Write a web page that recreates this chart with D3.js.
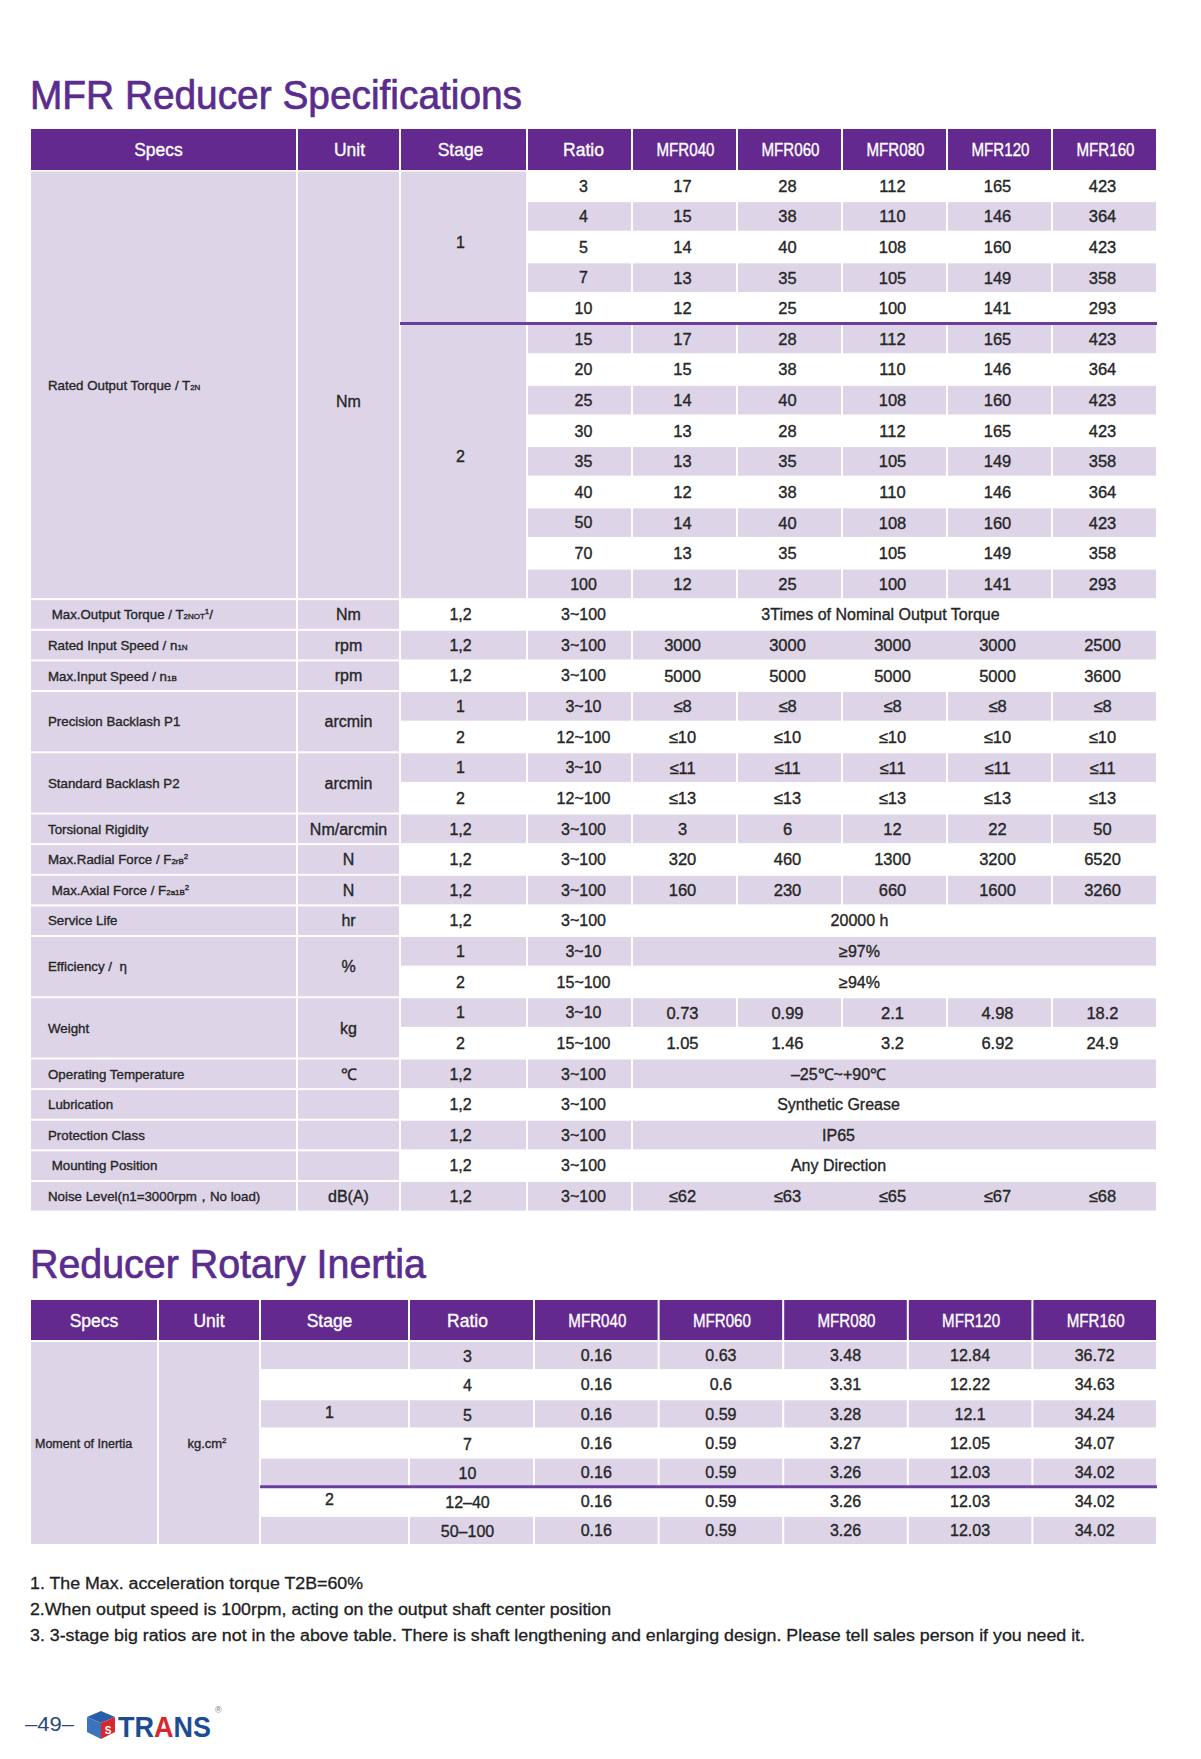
<!DOCTYPE html>
<html>
<head>
<meta charset="utf-8">
<script src="https://cdn.jsdelivr.net/npm/d3@7"></script>
<style>
  body { margin: 0; background: #fff; }
  svg text { font-family: "Liberation Sans", Arial, sans-serif; white-space: pre; }
  svg text.cell { stroke-width: 0.35px; }
</style>
</head>
<body>
<svg id="page"></svg>
<script>
// ---- data ----
var models = ["MFR040", "MFR060", "MFR080", "MFR120", "MFR160"];
var headCols = ["Specs", "Unit", "Stage", "Ratio"];

var specNames = [
  "Rated Output Torque / T_{2N}",
  " Max.Output Torque / T_{2NOT}^{1}/",
  "Rated Input Speed / n_{1N}",
  "Max.Input Speed / n_{1B}",
  "Precision Backlash P1",
  "Standard Backlash P2",
  "Torsional Rigidity",
  "Max.Radial Force / F_{2rB}^{2}",
  " Max.Axial Force / F_{2a1B}^{2}",
  "Service Life",
  "Efficiency /  η",
  "Weight",
  "Operating Temperature",
  "Lubrication",
  "Protection Class",
  " Mounting Position",
  "Noise Level(n1=3000rpm，No load)"
];
var specUnits = ["Nm", "Nm", "rpm", "rpm", "arcmin", "arcmin", "Nm/arcmin", "N", "N", "hr", "%", "kg", "℃", "", "", "", "dB(A)"];

// rated output torque T2N (Nm)
var stage1Ratios = ["3", "4", "5", "7", "10"];
var stage2Ratios = ["15", "20", "25", "30", "35", "40", "50", "70", "100"];
var torqueStage1 = [
  [17, 28, 112, 165, 423],
  [15, 38, 110, 146, 364],
  [14, 40, 108, 160, 423],
  [13, 35, 105, 149, 358],
  [12, 25, 100, 141, 293]
];
var torqueStage2 = [
  [17, 28, 112, 165, 423],
  [15, 38, 110, 146, 364],
  [14, 40, 108, 160, 423],
  [13, 28, 112, 165, 423],
  [13, 35, 105, 149, 358],
  [12, 38, 110, 146, 364],
  [14, 40, 108, 160, 423],
  [13, 35, 105, 149, 358],
  [12, 25, 100, 141, 293]
];

var maxOutputTorque = "3Times of Nominal Output Torque";
var ratedInputSpeed = [3000, 3000, 3000, 3000, 2500];
var maxInputSpeed = [5000, 5000, 5000, 5000, 3600];
var backlashP1 = [["≤8", "≤8", "≤8", "≤8", "≤8"], ["≤10", "≤10", "≤10", "≤10", "≤10"]];
var backlashP2 = [["≤11", "≤11", "≤11", "≤11", "≤11"], ["≤13", "≤13", "≤13", "≤13", "≤13"]];
var torsionalRigidity = [3, 6, 12, 22, 50];
var radialForce = [320, 460, 1300, 3200, 6520];
var axialForce = [160, 230, 660, 1600, 3260];
var serviceLife = "20000 h";
var efficiency = ["≥97%", "≥94%"];
var weightStage1 = ["0.73", "0.99", "2.1", "4.98", "18.2"];
var weightStage2 = ["1.05", "1.46", "3.2", "6.92", "24.9"];
var operatingTemp = "–25℃~+90℃";
var lubrication = "Synthetic Grease";
var protectionClass = "IP65";
var mountingPosition = "Any Direction";
var noiseLevel = ["≤62", "≤63", "≤65", "≤67", "≤68"];

// rotary inertia (kg.cm2)
var inertiaRatios = ["3", "4", "5", "7", "10", "12–40", "50–100"];
var inertiaStages = [["1", 5], ["2", 2]];
var inertia040 = ["0.16", "0.16", "0.16", "0.16", "0.16", "0.16", "0.16"];
var inertia060 = ["0.63", "0.6", "0.59", "0.59", "0.59", "0.59", "0.59"];
var inertia080 = ["3.48", "3.31", "3.28", "3.27", "3.26", "3.26", "3.26"];
var inertia120 = ["12.84", "12.22", "12.1", "12.05", "12.03", "12.03", "12.03"];
var inertia160 = ["36.72", "34.63", "34.24", "34.07", "34.02", "34.02", "34.02"];

var notes = [
  "1. The Max. acceleration torque T2B=60%",
  "2.When output speed is 100rpm, acting on the output shaft center position",
  "3. 3-stage big ratios are not in the above table. There is shaft lengthening and enlarging design. Please tell sales person if you need it."
];

// ---- look ----
var purple = "#63298f", lavender = "#ddd4e8", ink = "#262626", lineCol = "#6b3d9e", titleCol = "#5a2c8e";

var svg = d3.select("#page").attr("width", 1201).attr("height", 1759);
svg.append("rect").attr("width", 1201).attr("height", 1759).attr("fill", "#fff");

function cell(g, x0, x1, y0, y1, fill) {
  g.append("rect")
    .attr("x", x0 + 1).attr("y", y0 + 1)
    .attr("width", x1 - x0 - 2).attr("height", y1 - y0 - 2)
    .attr("fill", fill);
}

function label(g, x, y, str, size, anchor, color) {
  return g.append("text").attr("class", "cell")
    .attr("x", x).attr("y", y).attr("dy", "0.36em")
    .attr("font-size", size)
    .attr("text-anchor", anchor || "middle")
    .attr("fill", color || ink).attr("stroke", color || ink)
    .text(str);
}

// text with _{sub} and ^{sup} parts
function richLabel(g, x, y, str, size) {
  var t = g.append("text").attr("class", "cell").attr("x", x).attr("y", y).attr("dy", "0.36em")
    .attr("font-size", size).attr("fill", ink).attr("stroke", ink);
  var raised = false;
  str.split(/(_\{[^}]*\}|\^\{[^}]*\})/).forEach(function(part) {
    if (!part) return;
    var sp = t.append("tspan");
    if (part[0] === "_") {
      sp.attr("font-size", size * 0.6).text(part.slice(2, -1));
      if (raised) { sp.attr("dy", size * 0.4); raised = false; }
    } else if (part[0] === "^") {
      sp.attr("font-size", size * 0.6).attr("dy", -size * 0.4).text(part.slice(2, -1));
      raised = true;
    } else {
      sp.text(part);
      if (raised) { sp.attr("dy", size * 0.4); raised = false; }
    }
  });
}

function title(str, y, len) {
  svg.append("text").attr("x", 30).attr("y", y)
    .attr("font-size", 40).attr("fill", titleCol)
    .attr("stroke", titleCol).attr("stroke-width", 0.7)
    .attr("textLength", len).attr("lengthAdjust", "spacingAndGlyphs")
    .text(str);
}

function header(g, edges, xm, y0, y1, nudge) {
  var cols = headCols.map(function(h, i) { return {name: h, a: edges[i], b: edges[i + 1], dx: nudge[i]}; })
    .concat(models.map(function(m) { return {name: m, a: xm(m), b: xm(m) + xm.bandwidth(), dx: 1, model: true}; }));
  cols.forEach(function(c) {
    g.append("rect").attr("x", c.a + 1).attr("y", y0).attr("width", c.b - c.a - 2).attr("height", y1 - y0 - 1).attr("fill", purple);
    var t = label(g, (c.a + c.b) / 2 + c.dx, (y0 + y1) / 2, c.name, 17.5, "middle", "#fff");
    if (c.model) t.attr("textLength", 58).attr("lengthAdjust", "spacingAndGlyphs");
  });
}

// ---- table 1: specifications ----
title("MFR Reducer Specifications", 109, 492);

var specRows = [
  stage1Ratios.map(function(r, i) { return {ratio: r, values: torqueStage1[i]}; })
    .concat(stage2Ratios.map(function(r, i) { return {ratio: r, values: torqueStage2[i]}; })),
  [{stage: "1,2", ratio: "3~100", merged: maxOutputTorque, shift: -14}],
  [{stage: "1,2", ratio: "3~100", values: ratedInputSpeed, open: true}],
  [{stage: "1,2", ratio: "3~100", values: maxInputSpeed, open: true}],
  [{stage: "1", ratio: "3~10", values: backlashP1[0]}, {stage: "2", ratio: "12~100", values: backlashP1[1]}],
  [{stage: "1", ratio: "3~10", values: backlashP2[0]}, {stage: "2", ratio: "12~100", values: backlashP2[1]}],
  [{stage: "1,2", ratio: "3~100", values: torsionalRigidity}],
  [{stage: "1,2", ratio: "3~100", values: radialForce}],
  [{stage: "1,2", ratio: "3~100", values: axialForce}],
  [{stage: "1,2", ratio: "3~100", merged: serviceLife, shift: -35}],
  [{stage: "1", ratio: "3~10", merged: efficiency[0], shift: -35}, {stage: "2", ratio: "15~100", merged: efficiency[1], shift: -35}],
  [{stage: "1", ratio: "3~10", values: weightStage1}, {stage: "2", ratio: "15~100", values: weightStage2}],
  [{stage: "1,2", ratio: "3~100", merged: operatingTemp, shift: -56}],
  [{stage: "1,2", ratio: "3~100", merged: lubrication, shift: -56}],
  [{stage: "1,2", ratio: "3~100", merged: protectionClass, shift: -56}],
  [{stage: "1,2", ratio: "3~100", merged: mountingPosition, shift: -56}],
  [{stage: "1,2", ratio: "3~100", values: noiseLevel, open: true}]
];

var rows = [], groups = [];
specRows.forEach(function(list, gi) {
  groups.push({name: specNames[gi], unit: specUnits[gi], start: rows.length, count: list.length});
  list.forEach(function(r) { rows.push(r); });
});
var stageSpans = [{stage: "1", start: 0, count: stage1Ratios.length},
                  {stage: "2", start: stage1Ratios.length, count: stage2Ratios.length}];

var e1 = [30, 297, 400, 527, 632];
var x1 = d3.scaleBand().domain(models).range([632, 1157]);
var y1 = d3.scaleBand().domain(d3.range(rows.length)).range([170.5, 1211.6]);
var g1 = svg.append("g");

header(g1, e1, x1, 129, 171, [-5, 1, -3, 4]);

rows.forEach(function(r, i) {
  var top = y1(i), bot = top + y1.bandwidth(), mid = (top + bot) / 2;
  var fill = i % 2 ? lavender : "#fff";
  if (r.stage) {
    cell(g1, e1[2], e1[3], top, bot, fill);
    label(g1, (e1[2] + e1[3]) / 2 - 3, mid, r.stage, 16);
  }
  cell(g1, e1[3], e1[4], top, bot, fill);
  label(g1, (e1[3] + e1[4]) / 2 + 4, mid, r.ratio, 16);
  if (r.merged) {
    cell(g1, 632, 1157, top, bot, fill);
    label(g1, (632 + 1157) / 2 + r.shift, mid, r.merged, 16);
  } else {
    if (r.open) cell(g1, 632, 1157, top, bot, fill);
    models.forEach(function(m, k) {
      if (!r.open) cell(g1, x1(m), x1(m) + x1.bandwidth(), top, bot, fill);
      label(g1, x1(m) + x1.bandwidth() / 2 - 2, mid, String(r.values[k]), 16.5);
    });
  }
});

stageSpans.forEach(function(s) {
  var top = y1(s.start), bot = y1(s.start + s.count - 1) + y1.bandwidth();
  cell(g1, e1[2], e1[3], top, bot, lavender);
  label(g1, (e1[2] + e1[3]) / 2 - 3, (top + bot) / 2 - 5, s.stage, 16);
});

groups.forEach(function(gr, gi) {
  var top = y1(gr.start), bot = y1(gr.start + gr.count - 1) + y1.bandwidth(), mid = (top + bot) / 2;
  cell(g1, e1[0], e1[1], top, bot, lavender);
  cell(g1, e1[1], e1[2], top, bot, lavender);
  richLabel(g1, 48, mid, gr.name, 13.3);
  // the torque unit sits a little below the middle of its block
  if (gr.unit) label(g1, (e1[1] + e1[2]) / 2, mid + (gi === 0 ? 16 : 0), gr.unit, 16);
});

// purple rule between stage 1 and stage 2 torque rows
g1.append("line")
  .attr("x1", e1[2]).attr("x2", 1157)
  .attr("y1", y1(stage1Ratios.length)).attr("y2", y1(stage1Ratios.length))
  .attr("stroke", lineCol).attr("stroke-width", 3);

// ---- table 2: rotary inertia ----
title("Reducer Rotary Inertia", 1278, 396);

var inertiaCols = [inertia040, inertia060, inertia080, inertia120, inertia160];
var e2 = [30, 158, 260, 409, 534];
var x2 = d3.scaleBand().domain(models).range([534, 1157]);
var y2 = d3.scaleBand().domain(d3.range(inertiaRatios.length)).range([1341, 1545]);
var g2 = svg.append("g");

header(g2, e2, x2, 1300, 1341, [0, 0, -5, -4]);

var stageAt = {}, s0 = 0;
inertiaStages.forEach(function(s) { stageAt[s0 + Math.floor((s[1] - 1) / 2)] = s[0]; s0 += s[1]; });

inertiaRatios.forEach(function(r, i) {
  var top = y2(i), bot = top + y2.bandwidth(), mid = (top + bot) / 2;
  var fill = i % 2 ? "#fff" : lavender;
  cell(g2, e2[2], e2[3], top, bot, fill);
  if (stageAt[i]) label(g2, (e2[2] + e2[3]) / 2 - 5, mid - 2, stageAt[i], 16);
  cell(g2, e2[3], e2[4], top, bot, fill);
  label(g2, (e2[3] + e2[4]) / 2 - 4, mid + 1, r, 16);
  models.forEach(function(m, k) {
    cell(g2, x2(m), x2(m) + x2.bandwidth(), top, bot, fill);
    label(g2, x2(m) + x2.bandwidth() / 2, mid, inertiaCols[k][i], 16);
  });
});

var tTop = y2(0), tBot = y2(inertiaRatios.length - 1) + y2.bandwidth();
cell(g2, e2[0], e2[1], tTop, tBot, lavender);
cell(g2, e2[1], e2[2], tTop, tBot, lavender);
label(g2, 35, (tTop + tBot) / 2, "Moment of Inertia", 12.5, "start");
var kg = label(g2, (e2[1] + e2[2]) / 2 - 2, (tTop + tBot) / 2, "kg.cm", 13);
kg.append("tspan").attr("font-size", 8).attr("dy", -5).text("2");

g2.append("line")
  .attr("x1", e2[2]).attr("x2", 1157)
  .attr("y1", y2(inertiaStages[0][1])).attr("y2", y2(inertiaStages[0][1]))
  .attr("stroke", lineCol).attr("stroke-width", 3);

// ---- notes ----
var noteLen = [333, 581, 1055];
notes.forEach(function(n, i) {
  svg.append("text").attr("x", 30).attr("y", 1589 + i * 26)
    .attr("font-size", 16).attr("fill", "#1e1e1e")
    .attr("stroke", "#1e1e1e").attr("stroke-width", 0.3)
    .attr("textLength", noteLen[i]).attr("lengthAdjust", "spacingAndGlyphs")
    .text(n);
});

// ---- footer ----
var foot = svg.append("g");
foot.append("text").attr("x", 25).attr("y", 1731).attr("font-size", 20)
  .attr("fill", "#2b4a7d").attr("textLength", 49).attr("lengthAdjust", "spacingAndGlyphs").text("–49–");
// logo cube
foot.append("path").attr("d", "M101,1711 L115,1717 L101,1723 L87,1717 Z").attr("fill", "#2a5ea8");
foot.append("path").attr("d", "M87,1717 L101,1723 L101,1739 L87,1732 Z").attr("fill", "#3b74bd");
foot.append("path").attr("d", "M101,1723 L115,1717 L115,1732 L101,1739 Z").attr("fill", "#d9272e");
foot.append("text").attr("x", 108).attr("y", 1734).attr("font-size", 10).attr("font-weight", "bold")
  .attr("text-anchor", "middle").attr("fill", "#fff").text("S");
var logo = foot.append("text").attr("transform", "translate(118,1737) scale(1,1.12)")
  .attr("font-size", 27).attr("font-weight", "bold").attr("fill", "#1c4c94");
logo.append("tspan").text("TR");
logo.append("tspan").attr("fill", "#d9272e").text("A");
logo.append("tspan").text("NS");
foot.append("text").attr("x", 215).attr("y", 1713).attr("font-size", 9).attr("fill", "#777").text("®");
</script>
</body>
</html>
